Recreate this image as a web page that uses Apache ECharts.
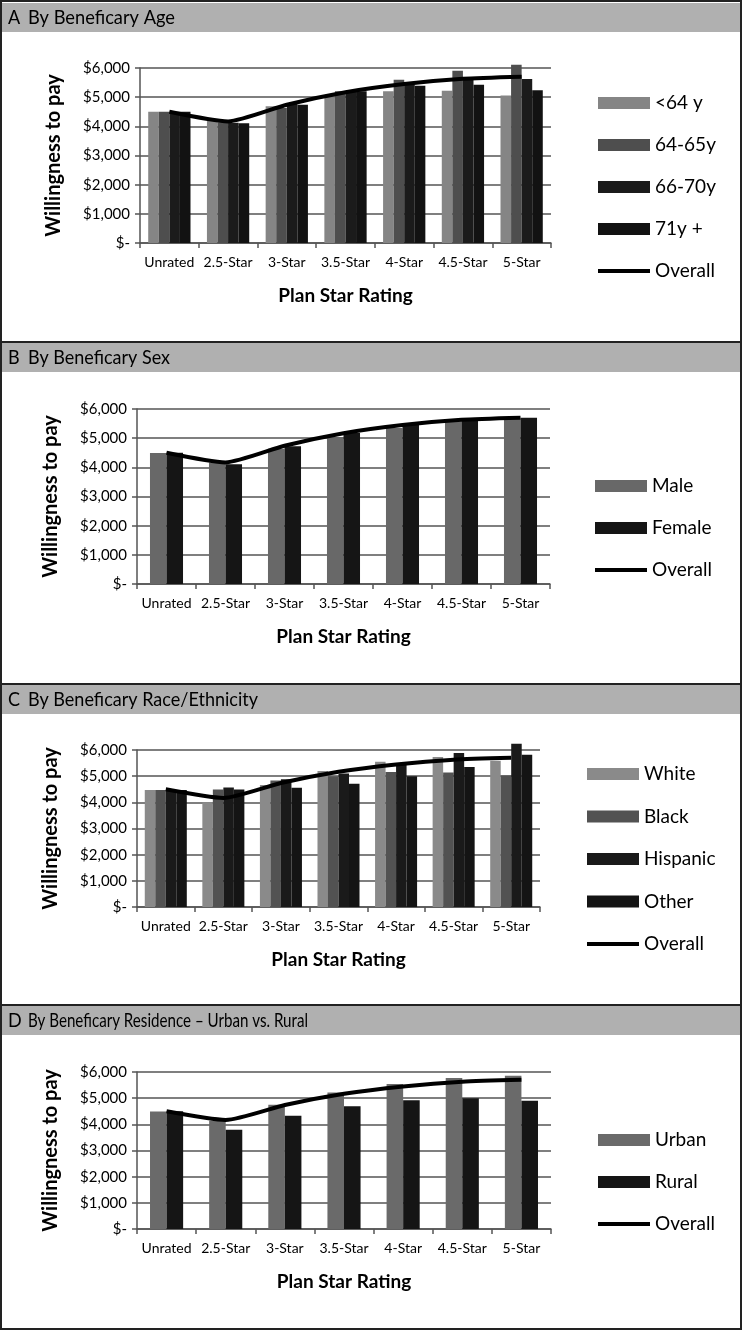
<!DOCTYPE html>
<html>
<head>
<meta charset="utf-8">
<script src="https://cdn.jsdelivr.net/npm/echarts@6/dist/echarts.min.js"></script>
<style>
html,body{margin:0;padding:0;background:#fff;}
#c{width:742px;height:1330px;}
</style>
</head>
<body>
<div id="c"></div>
<script>
// ---- data ----
const categories = ['Unrated', '2.5-Star', '3-Star', '3.5-Star', '4-Star', '4.5-Star', '5-Star'];
const yTicks = [0, 1000, 2000, 3000, 4000, 5000, 6000];
const yTickLabels = ['$-', '$1,000', '$2,000', '$3,000', '$4,000', '$5,000', '$6,000'];
const overall = [4500, 4170, 4740, 5170, 5450, 5630, 5700];

// Panel A: age
const ageLt64 = [4500, 4190, 4690, 4970, 5200, 5220, 5060];
const age6465 = [4500, 4140, 4630, 5200, 5600, 5910, 6110];
const age6670 = [4500, 4120, 4770, 5220, 5430, 5600, 5620];
const age71 = [4500, 4110, 4740, 5200, 5390, 5430, 5240];
// Panel B: sex
const male = [4490, 4170, 4640, 5040, 5350, 5580, 5670];
const female = [4500, 4110, 4720, 5180, 5460, 5610, 5700];
// Panel C: race/ethnicity
const white = [4470, 4000, 4660, 5200, 5550, 5730, 5590];
const black = [4470, 4490, 4830, 5000, 5160, 5140, 5030];
const hispanic = [4470, 4570, 4880, 5100, 5450, 5890, 6240];
const other = [4470, 4490, 4560, 4710, 5000, 5350, 5820];
// Panel D: residence
const urban = [4490, 4140, 4750, 5220, 5540, 5770, 5860];
const rural = [4500, 3790, 4330, 4690, 4920, 5000, 4900];

const panelTitles = [
  ['A', 'By Beneficary Age'],
  ['B', 'By Beneficary Sex'],
  ['C', 'By Beneficary Race/Ethnicity'],
  ['D', 'By Beneficary Residence \u2013 Urban vs. Rural']
];
const yAxisTitle = 'Willingness to pay';
const xAxisTitle = 'Plan Star Rating';

// ---- layout / style ----
const FONT = 'Lato';
const gridColor = '#555555';
const panels = [
  { grid: { left: 140, top: 68, width: 411, height: 175 }, legend: { left: 593, top: 88, gap: 22 }, catGap: '28%',
    series: [['<64 y', ageLt64, '#858585'], ['64-65y', age6465, '#4e4e4e'], ['66-70y', age6670, '#1b1b1b'], ['71y +', age71, '#121212']] },
  { grid: { left: 137, top: 409, width: 413, height: 175 }, legend: { left: 590, top: 471, gap: 22 }, catGap: '44%',
    series: [['Male', male, '#686868'], ['Female', female, '#151515']] },
  { grid: { left: 137, top: 750, width: 403, height: 157 }, legend: { left: 582, top: 759, gap: 22.5 }, catGap: '27%',
    series: [['White', white, '#8a8a8a'], ['Black', black, '#525252'], ['Hispanic', hispanic, '#1a1a1a'], ['Other', other, '#141414']] },
  { grid: { left: 137, top: 1072, width: 414, height: 157 }, legend: { left: 593, top: 1125, gap: 22 }, catGap: '44%',
    series: [['Urban', urban, '#6a6a6a'], ['Rural', rural, '#151515']] }
];
const headerTops = [3, 343, 685, 1006];
const headerTextWidths = [147, 142, 230, 280];
const separators = [342, 684, 1005];

function textWidth(txt, size) {
  const cv = document.createElement('canvas').getContext('2d');
  cv.font = size + 'px ' + FONT;
  return cv.measureText(txt).width;
}

const grids = [], xAxes = [], yAxes = [], legends = [], series = [], graphics = [];
const HEADER_SIZE = 20;

panels.forEach((p, i) => {
  grids.push(Object.assign({ containLabel: false }, p.grid));
  xAxes.push({
    type: 'category', gridIndex: i, data: categories, boundaryGap: true,
    axisLine: { show: true, lineStyle: { color: gridColor, width: 1.5 } },
    axisTick: { show: true, length: 5, lineStyle: { color: gridColor, width: 1.5 } },
    axisLabel: { color: '#000', fontFamily: FONT, fontSize: 14, margin: 12, interval: 0 },
    name: xAxisTitle, nameLocation: 'middle', nameGap: 43,
    nameTextStyle: { color: '#000', fontFamily: FONT, fontSize: 19, fontWeight: 'bold' }
  });
  yAxes.push({
    type: 'value', gridIndex: i, min: 0, max: 6000, interval: 1000,
    axisLine: { show: true, lineStyle: { color: gridColor, width: 1.5 } },
    axisTick: { show: true, length: 5, lineStyle: { color: gridColor, width: 1.5 } },
    splitLine: { show: true, lineStyle: { color: gridColor, width: 1.5 } },
    axisLabel: { color: '#000', fontFamily: FONT, fontSize: 15, margin: 10,
      formatter: v => yTickLabels[yTicks.indexOf(v)] },
    name: yAxisTitle, nameLocation: 'middle', nameRotate: 90, nameGap: 76,
    nameTextStyle: { color: '#000', fontFamily: FONT, fontSize: 20, fontWeight: 'bold' }
  });
  const names = [];
  p.series.forEach((s) => {
    names.push(s[0]);
    series.push({
      type: 'bar', name: s[0], xAxisIndex: i, yAxisIndex: i, data: s[1],
      barGap: '0%', barCategoryGap: p.catGap, clip: false,
      itemStyle: { color: s[2] }, z: 2
    });
  });
  series.push({
    type: 'line', name: 'Overall', xAxisIndex: i, yAxisIndex: i, data: overall, clip: false,
    smooth: 0.2, symbol: 'none', lineStyle: { color: '#000', width: 4 }, itemStyle: { color: '#000' }, z: 5
  });
  const legendData = names.map(n => ({ name: n, icon: 'rect' }));
  legendData.push({ name: 'Overall', icon: 'path://M0,0 L52,0 L52,4 L0,4 Z' });
  legends.push({
    orient: 'vertical', left: p.legend.left, top: p.legend.top, itemGap: p.legend.gap,
    itemWidth: 52, itemHeight: 12, selectedMode: false, data: legendData,
    textStyle: { color: '#000', fontFamily: FONT, fontSize: 19, lineHeight: 20 }
  });

  // header band
  const hy = headerTops[i] + 14.5;
  graphics.push({ type: 'rect', shape: { x: 2, y: headerTops[i], width: 738, height: 29 }, style: { fill: '#b0b0b0' }, z: -1 });
  graphics.push({ type: 'text', x: 8, y: hy, scaleX: 0.9, style: { text: panelTitles[i][0], fontFamily: FONT, fontSize: HEADER_SIZE, fill: '#000', verticalAlign: 'middle' } });
  const sx = headerTextWidths[i] / textWidth(panelTitles[i][1], HEADER_SIZE);
  graphics.push({ type: 'text', x: 28, y: hy, scaleX: sx, style: { text: panelTitles[i][1], fontFamily: FONT, fontSize: HEADER_SIZE, fill: '#000', verticalAlign: 'middle' } });
});

separators.forEach(y => {
  graphics.push({ type: 'rect', shape: { x: 0, y: y - 1, width: 742, height: 2 }, style: { fill: '#222' } });
});
graphics.push({ type: 'rect', shape: { x: 1, y: 1, width: 740, height: 1328 }, style: { fill: 'none', stroke: '#222', lineWidth: 2 } });

const chart = echarts.init(document.getElementById('c'), null, { renderer: 'canvas' });
chart.setOption({
  animation: false,
  backgroundColor: '#fff',
  grid: grids, xAxis: xAxes, yAxis: yAxes, legend: legends, series: series, graphic: graphics
});
</script>
</body>
</html>
